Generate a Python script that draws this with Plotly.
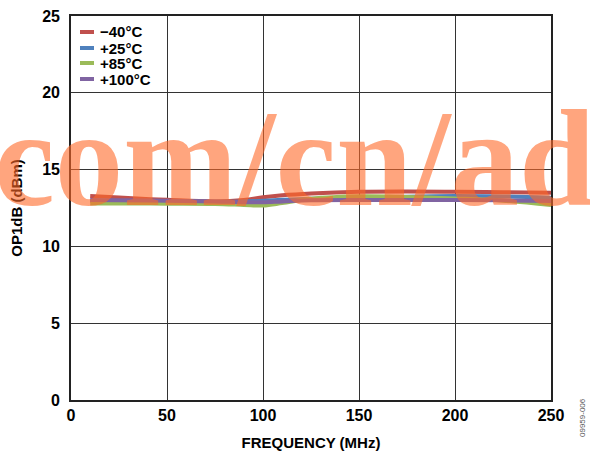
import plotly.graph_objects as go

freq_mhz = [10, 25, 50, 75, 90, 100, 110, 125, 150, 175, 200, 225, 250]
op1db_m40 = [13.28, 13.18, 13.03, 12.93, 13.02, 13.20, 13.33, 13.45, 13.56, 13.58, 13.56, 13.53, 13.50]
op1db_p25 = [12.95, 12.95, 12.93, 12.90, 12.92, 12.97, 13.03, 13.10, 13.15, 13.24, 13.28, 13.25, 13.17]
op1db_p85 = [12.80, 12.80, 12.78, 12.76, 12.70, 12.66, 12.82, 13.10, 13.26, 13.22, 13.12, 12.98, 12.70]
op1db_p100 = [13.02, 13.00, 12.97, 12.93, 12.88, 12.88, 12.93, 13.00, 13.02, 13.02, 13.02, 13.00, 12.96]

series_names = ["\u221240°C", "+25°C", "+85°C", "+100°C"]
series_values = [op1db_m40, op1db_p25, op1db_p85, op1db_p100]
series_colors = ["#C0504D", "#4F81BD", "#9BBB59", "#8064A2"]

x_ticks = [0, 50, 100, 150, 200, 250]
y_ticks = [0, 5, 10, 15, 20, 25]

W, H = 590, 453
ML, MR, MT, MB = 71, 39, 16, 53
PW, PH = W - ML - MR, H - MT - MB

def px(xp):
    return (xp - ML) / PW

def py(yp):
    return (H - MB - yp) / PH

FONT = "Liberation Sans, Arial, sans-serif"

fig = go.Figure()
for name, vals, col in zip(series_names, series_values, series_colors):
    fig.add_trace(go.Scatter(x=freq_mhz, y=vals, mode="lines", name=name,
                             line=dict(color=col, width=4, shape="spline"),
                             showlegend=False, hoverinfo="skip"))

shapes = []
annotations = []
leg_y = [32, 48, 63, 79]
for i, (name, col) in enumerate(zip(series_names, series_colors)):
    shapes.append(dict(type="line", xref="paper", yref="paper",
                       x0=px(80), x1=px(94), y0=py(leg_y[i]), y1=py(leg_y[i]),
                       line=dict(color=col, width=4)))
    annotations.append(dict(xref="paper", yref="paper", x=px(98), y=py(leg_y[i]),
                            xanchor="left", yanchor="middle", showarrow=False,
                            text=name, font=dict(family=FONT, size=15, color="black", weight="bold")))

# watermark
annotations.append(dict(xref="paper", yref="paper", x=px(-8), y=py(159),
                        xanchor="left", yanchor="middle", showarrow=False,
                        text="com/cn/ad",
                        font=dict(family="Liberation Serif, Times New Roman, serif", size=137,
                                  color="rgba(255,105,40,0.6)", weight="bold")))
# figure number
annotations.append(dict(xref="paper", yref="paper", x=px(582), y=py(418),
                        xanchor="center", yanchor="middle", showarrow=False,
                        text="09959-006", textangle=-90,
                        font=dict(family=FONT, size=8, color="#555")))

axis_common = dict(showgrid=True, gridcolor="#333333", gridwidth=1.3,
                   showline=True, linecolor="#222222", linewidth=1.6, mirror=True,
                   zeroline=False, ticks="", automargin=False,
                   tickfont=dict(family=FONT, size=16, color="black", weight="bold"))

fig.update_layout(
    width=W, height=H,
    margin=dict(l=ML, r=MR, t=MT, b=MB),
    paper_bgcolor="white", plot_bgcolor="white",
    hovermode=False,
    xaxis=dict(range=[0, 250], tickvals=x_ticks, ticklabelstandoff=0,
               title=dict(text="FREQUENCY (MHz)", standoff=14,
                          font=dict(family=FONT, size=15, color="black", weight="bold")),
               **axis_common),
    yaxis=dict(range=[0, 25], tickvals=y_ticks, ticklabelstandoff=6,
               title=dict(text="OP1dB (dBm)", standoff=16,
                          font=dict(family=FONT, size=15, color="black", weight="bold")),
               **axis_common),
    shapes=shapes,
    annotations=annotations,
)

fig.write_html("out.html", config={"displayModeBar": False},
               post_script="document.body.style.margin='0';document.body.style.padding='0';")
